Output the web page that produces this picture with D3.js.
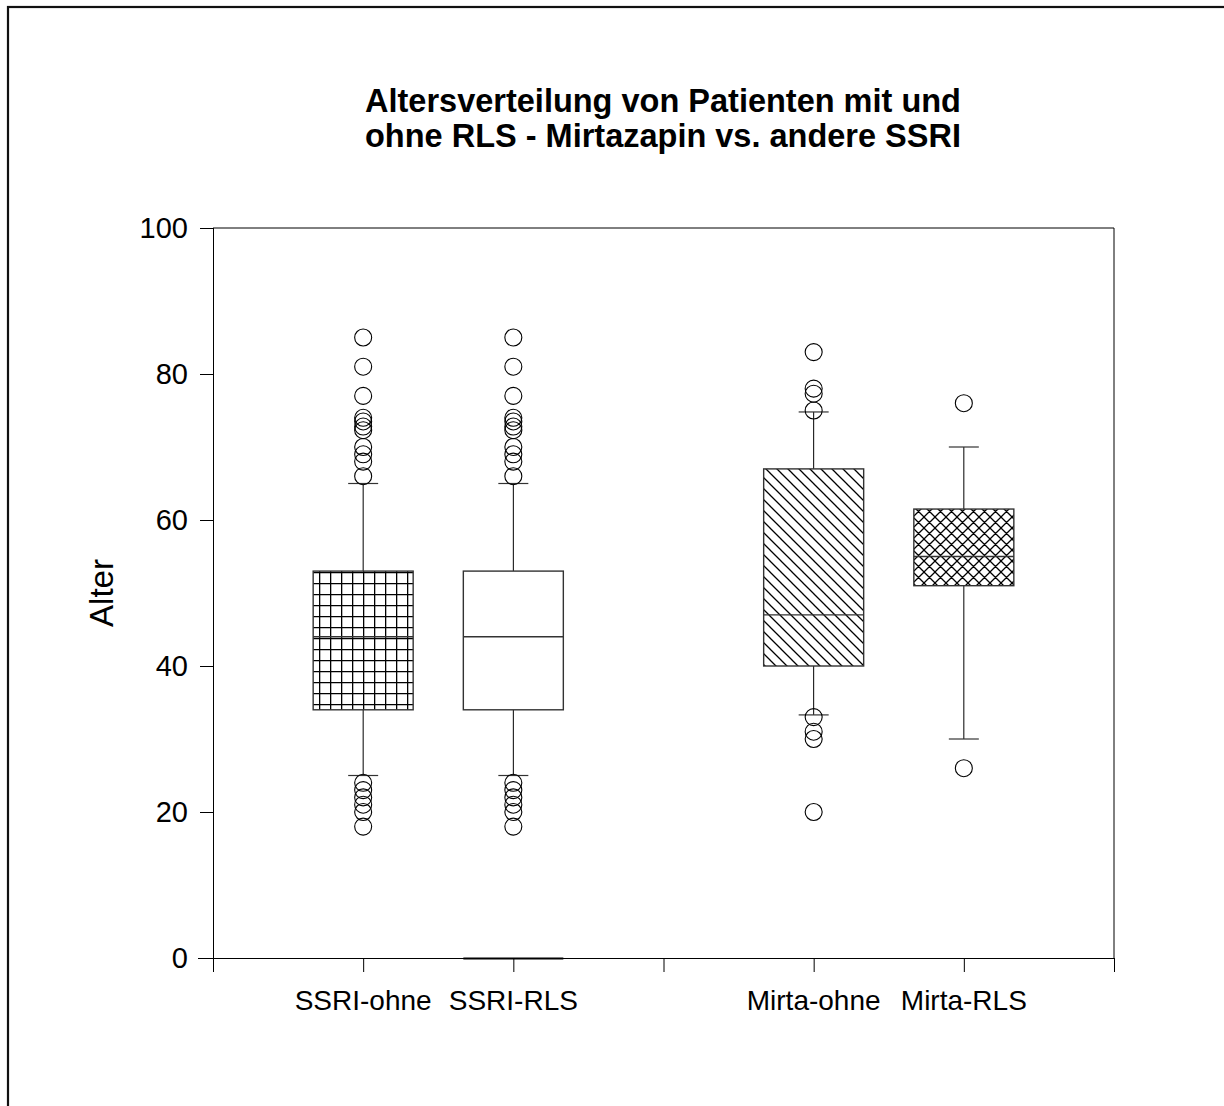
<!DOCTYPE html>
<html>
<head>
<meta charset="utf-8">
<script src="https://cdn.jsdelivr.net/npm/d3@7"></script>
<style>
  html, body { margin: 0; padding: 0; background: #fff; overflow: hidden; }
  text { font-family: "Liberation Sans", Arial, Helvetica, sans-serif; fill: #000; }
</style>
</head>
<body>
<svg id="chart" width="1224" height="1106"></svg>
<script>
// ---- data ----
const categories = ["SSRI-ohne", "SSRI-RLS", "Mirta-ohne", "Mirta-RLS"];
const positions = [1, 2, 4, 5];
const q1Values = [34, 34, 40, 51];
const medianValues = [44, 44, 47, 55];
const q3Values = [53, 53, 67, 61.5];
const whiskerLow = [25, 25, 33.3, 30];
const whiskerHigh = [65, 65, 74.8, 70];
const outliersSSRIohne = [85, 81, 77, 74, 73.5, 72.8, 72.3, 70, 69, 68, 66, 24, 23, 22, 21, 20, 18];
const outliersSSRIRLS = [85, 81, 77, 74, 73.5, 72.8, 72.3, 70, 69, 68, 66, 24, 23, 22, 21, 20, 18];
const outliersMirtaOhne = [83, 78, 77.3, 75, 33, 31, 30, 20];
const outliersMirtaRLS = [76, 26];
const zeroLineValues = [null, 0, null, null];
const patterns = ["grid", "none", "diag", "cross"];
const yTicks = [0, 20, 40, 60, 80, 100];
const xTicks = [0, 1, 2, 3, 4, 5, 6];
const titleLines = ["Altersverteilung von Patienten mit und", "ohne RLS - Mirtazapin vs. andere SSRI"];
const yLabel = "Alter";

const outliers = [outliersSSRIohne, outliersSSRIRLS, outliersMirtaOhne, outliersMirtaRLS];

(function () {
// ---- layout ----
const svg = d3.select("#chart");
const pLeft = 213, pRight = 1114, pTop = 228, pBottom = 958;
const x = d3.scaleLinear().domain([0, 6]).range([pLeft, pRight]);
const y = d3.scaleLinear().domain([0, 100]).range([pBottom, pTop]);
const boxW = 100, capW = 30;

// outer frame
svg.append("rect").attr("x", 8).attr("y", 7).attr("width", 1400).attr("height", 1300)
  .attr("fill", "none").attr("stroke", "#111").attr("stroke-width", 2.2);

// patterns
const defs = svg.append("defs");
const P = 11;
const pg = defs.append("pattern").attr("id", "grid").attr("patternUnits", "userSpaceOnUse")
  .attr("width", P).attr("height", P).attr("x", 0).attr("y", 0);
pg.append("rect").attr("width", P).attr("height", P).attr("fill", "#fff");
pg.append("path").attr("d", `M0.5,0V${P}M0,0.5H${P}`).attr("stroke", "#000").attr("stroke-width", 1.6);

const pd = defs.append("pattern").attr("id", "diag").attr("patternUnits", "userSpaceOnUse")
  .attr("width", P).attr("height", P);
pd.append("rect").attr("width", P).attr("height", P).attr("fill", "#fff");
pd.append("path").attr("d", `M-2,-2L${P+2},${P+2}M${-P-2},-2L2,${P+2}M${P-2},-2L${2*P+2},${P+2}`)
  .attr("stroke", "#000").attr("stroke-width", 1.3);

const pc = defs.append("pattern").attr("id", "cross").attr("patternUnits", "userSpaceOnUse")
  .attr("width", P).attr("height", P);
pc.append("rect").attr("width", P).attr("height", P).attr("fill", "#fff");
pc.append("path").attr("d", `M-2,-2L${P+2},${P+2}M${-P-2},-2L2,${P+2}M${P-2},-2L${2*P+2},${P+2}` +
  `M${P+2},-2L-2,${P+2}M2,-2L${-P-2},${P+2}M${2*P+2},-2L${P-2},${P+2}`)
  .attr("stroke", "#000").attr("stroke-width", 1.3);

// plot frame (top and right)
svg.append("path").attr("d", `M${pLeft},${pTop}H${pRight}V${pBottom}`)
  .attr("fill", "none").attr("stroke", "#000").attr("stroke-width", 1);

// y axis
const yAxis = svg.append("g").attr("transform", `translate(${pLeft},0)`)
  .call(d3.axisLeft(y).tickValues(yTicks).tickSize(13).tickPadding(12).tickFormat(d3.format("d")));
yAxis.select(".domain").attr("stroke", "#000").attr("d", `M0.5,${pTop}V${pBottom}`);
yAxis.selectAll(".tick line").attr("stroke", "#000");
yAxis.selectAll(".tick text").attr("font-size", 29).attr("font-family", "Liberation Sans, Arial, sans-serif");

// x axis
const xAxis = svg.append("g").attr("transform", `translate(0,${pBottom})`)
  .call(d3.axisBottom(x).tickValues(xTicks).tickSize(14).tickFormat(""));
xAxis.select(".domain").attr("stroke", "#000").attr("d", `M${pLeft - 15},0.5H${pRight}`);
xAxis.selectAll(".tick line").attr("stroke", "#000");

// category labels
svg.append("g").selectAll("text").data(categories).join("text")
  .attr("x", (d, i) => x(positions[i]))
  .attr("y", 1010)
  .attr("text-anchor", "middle")
  .attr("font-size", 28)
  .text(d => d);

// y label
svg.append("text")
  .attr("transform", `translate(113,593) rotate(-90)`)
  .attr("text-anchor", "middle")
  .attr("font-size", 33)
  .text(yLabel);

// title
const title = svg.append("text").attr("text-anchor", "middle").attr("font-weight", "bold").attr("font-size", 32.5);
titleLines.forEach((t, i) => {
  title.append("tspan").attr("x", 663).attr("y", 112 + i * 35).text(t);
});

// box plots
const boxes = svg.append("g");
categories.forEach((c, i) => {
  const cx = x(positions[i]);
  const g = boxes.append("g");
  g.append("line").attr("x1", cx).attr("x2", cx).attr("y1", y(q3Values[i])).attr("y2", y(whiskerHigh[i]))
    .attr("stroke", "#000").attr("stroke-width", 1);
  g.append("line").attr("x1", cx).attr("x2", cx).attr("y1", y(q1Values[i])).attr("y2", y(whiskerLow[i]))
    .attr("stroke", "#000").attr("stroke-width", 1);
  g.append("line").attr("x1", cx - capW / 2).attr("x2", cx + capW / 2)
    .attr("y1", y(whiskerHigh[i])).attr("y2", y(whiskerHigh[i])).attr("stroke", "#333").attr("stroke-width", 1.2);
  g.append("line").attr("x1", cx - capW / 2).attr("x2", cx + capW / 2)
    .attr("y1", y(whiskerLow[i])).attr("y2", y(whiskerLow[i])).attr("stroke", "#333").attr("stroke-width", 1.2);
  g.append("rect").attr("x", cx - boxW / 2).attr("width", boxW)
    .attr("y", y(q3Values[i])).attr("height", y(q1Values[i]) - y(q3Values[i]))
    .attr("fill", patterns[i] === "none" ? "#fff" : `url(#${patterns[i]})`)
    .attr("stroke", "#333").attr("stroke-width", 1.4);
  g.append("line").attr("x1", cx - boxW / 2).attr("x2", cx + boxW / 2)
    .attr("y1", y(medianValues[i])).attr("y2", y(medianValues[i])).attr("stroke", "#333").attr("stroke-width", 1.4);
  if (zeroLineValues[i] !== null) {
    g.append("line").attr("x1", cx - boxW / 2).attr("x2", cx + boxW / 2)
      .attr("y1", y(zeroLineValues[i]) + 0.5).attr("y2", y(zeroLineValues[i]) + 0.5)
      .attr("stroke", "#000").attr("stroke-width", 1.8);
  }
  g.selectAll("circle").data(outliers[i]).join("circle")
    .attr("cx", cx).attr("cy", d => y(d)).attr("r", 8.5)
    .attr("fill", "none").attr("stroke", "#000").attr("stroke-width", 1.1);
});
})();
</script>
</body>
</html>
